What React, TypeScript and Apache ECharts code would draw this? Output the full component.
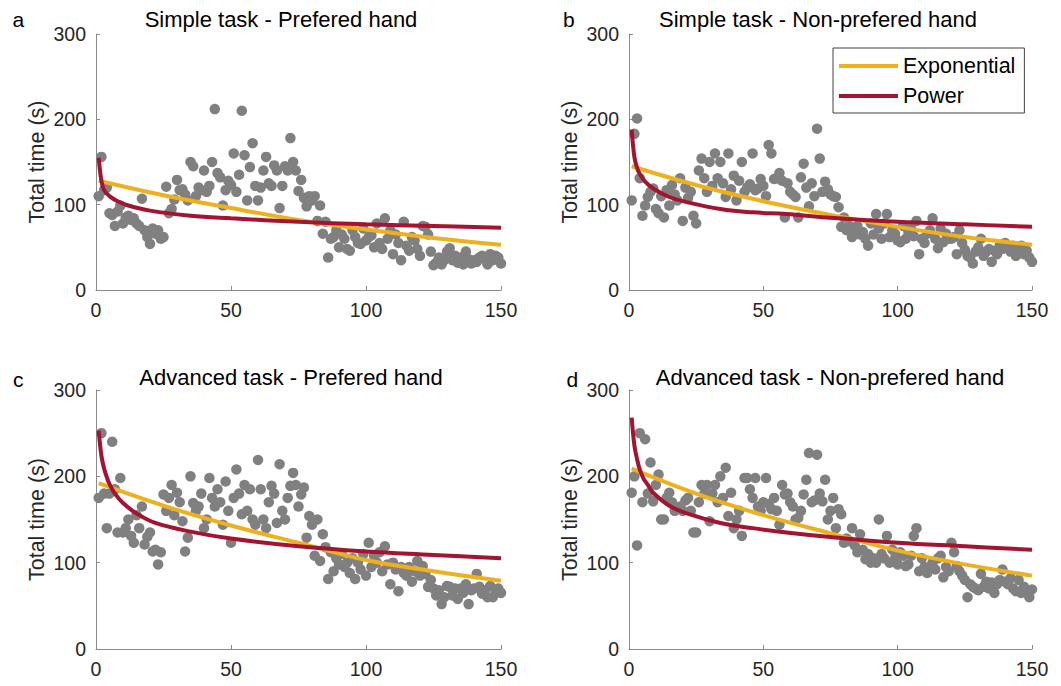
import React, { useEffect, useRef } from "react";
import * as echarts from "echarts";

const FONT = "'Liberation Sans', Arial, Helvetica, sans-serif";

const panelTitles = [
  "Simple task - Prefered hand",
  "Simple task - Non-prefered hand",
  "Advanced task - Prefered hand",
  "Advanced task - Non-prefered hand",
];
const panelLetters = ["a", "b", "c", "d"];
const seriesNames = ["Exponential", "Power"];
const xTicks = [0, 50, 100, 150];
const yTicks = [0, 100, 200, 300];

// Total time (s) per trial (trial = index + 1)
const timesA = [
  110, 156, 117, 120, 90, 88, 75, 92, 99, 78,
  85, 87, 82, 84, 78, 75, 107, 70, 62, 54,
  72, 66, 70, 60, 62, 121, 90, 95, 106, 129,
  117, 118, 112, 105, 150, 145, 110, 120, 117, 140,
  115, 122, 150, 212, 137, 132, 99, 117, 128, 123,
  160, 115, 135, 210, 158, 105, 144, 172, 122, 105,
  120, 140, 156, 125, 122, 146, 140, 96, 122, 145,
  140, 178, 150, 140, 116, 129, 108, 98, 110, 105,
  110, 81, 99, 66, 80, 38, 60, 62, 70, 50,
  65, 60, 48, 46, 70, 62, 55, 54, 72, 58,
  62, 64, 50, 78, 55, 48, 84, 60, 70, 42,
  65, 55, 35, 80, 52, 46, 62, 58, 48, 40,
  75, 74, 65, 45, 29, 32, 38, 30, 35, 45,
  49, 35, 40, 32, 38, 30, 45, 36, 31, 35,
  33, 38, 40, 36, 30, 42, 35, 40, 38, 31,
];
const timesB = [
  105, 183, 201, 131, 87, 99, 109, 115, 119, 95,
  90, 110, 85, 117, 99, 123, 112, 105, 131, 81,
  120, 108, 115, 87, 78, 140, 154, 131, 115, 150,
  122, 160, 131, 150, 125, 109, 160, 118, 134, 105,
  128, 150, 115, 120, 124, 160, 117, 119, 130, 122,
  110, 170, 160, 130, 131, 137, 128, 85, 125, 115,
  112, 109, 85, 132, 148, 120, 98, 125, 110, 189,
  154, 115, 127, 118, 112, 110, 109, 97, 74, 85,
  70, 75, 62, 70, 75, 65, 68, 60, 52, 78,
  65, 89, 72, 60, 78, 89, 62, 70, 66, 58,
  56, 75, 60, 68, 72, 63, 81, 42, 60, 55,
  66, 70, 84, 60, 49, 72, 56, 66, 60, 60,
  62, 42, 70, 55, 47, 40, 38, 31, 45, 50,
  60, 40, 45, 48, 33, 46, 42, 52, 48, 55,
  50, 45, 52, 40, 46, 52, 42, 46, 38, 33,
];
const timesC = [
  175, 250, 180, 140, 180, 240, 185, 135, 198, 135,
  140, 150, 131, 123, 155, 140, 165, 121, 130, 135,
  113, 115, 98, 112, 179, 160, 175, 190, 155, 181,
  170, 148, 113, 129, 200, 169, 160, 165, 180, 140,
  150, 198, 175, 165, 185, 170, 144, 194, 160, 123,
  175, 208, 180, 156, 190, 160, 185, 150, 144, 219,
  185, 150, 140, 170, 189, 180, 146, 214, 160, 150,
  175, 189, 204, 190, 165, 179, 187, 129, 154, 144,
  108, 150, 102, 133, 118, 81, 112, 90, 105, 98,
  110, 95, 100, 88, 105, 81, 100, 92, 110, 85,
  123, 95, 108, 100, 112, 90, 119, 98, 75, 100,
  92, 67, 95, 88, 85, 95, 78, 90, 102, 85,
  96, 87, 72, 80, 70, 62, 68, 52, 60, 73,
  72, 62, 70, 58, 70, 65, 75, 52, 68, 70,
  87, 72, 64, 68, 60, 73, 60, 66, 70, 65,
];
const timesD = [
  181, 200, 120, 250, 170, 243, 180, 216, 171, 190,
  202, 150, 150, 175, 181, 170, 160, 162, 165, 160,
  172, 175, 160, 135, 135, 170, 190, 180, 190, 148,
  180, 190, 170, 200, 175, 210, 154, 181, 140, 150,
  160, 131, 198, 198, 185, 175, 198, 165, 160, 170,
  198, 168, 162, 175, 160, 144, 190, 179, 180, 170,
  165, 150, 152, 160, 179, 196, 227, 170, 172, 225,
  180, 171, 196, 150, 160, 175, 140, 162, 156, 123,
  128, 125, 140, 120, 112, 133, 115, 104, 110, 100,
  105, 100, 150, 110, 105, 131, 100, 115, 105, 98,
  112, 108, 96, 98, 108, 131, 140, 90, 105, 95,
  88, 95, 100, 92, 105, 108, 83, 95, 90, 123,
  112, 96, 90, 85, 80, 60, 75, 72, 70, 68,
  87, 72, 78, 70, 77, 65, 75, 80, 92, 78,
  75, 82, 70, 67, 80, 65, 72, 68, 60, 69,
];

// Fitted curves: [trial, time]
const expA = [[1, 128], [25, 111], [50, 96], [75, 82], [100, 71], [125, 61], [150, 53]];
const powA = [[1, 155], [2, 128], [3, 117], [5, 110], [8, 104], [12, 99], [20, 93], [35, 87], [50, 84], [75, 80], [100, 77], [125, 75], [150, 73]];
const expB = [[1, 145], [25, 123], [50, 104], [75, 88], [100, 74], [125, 62], [150, 53]];
const powB = [[1, 188], [2, 156], [3, 143], [4, 136], [6, 127], [9, 119], [15, 109], [21.5, 103], [34, 95], [46, 91], [58.6, 89], [73.5, 85], [100, 80], [125, 77], [150, 74]];
const expC = [[1, 192], [25, 166], [50, 143], [75, 123], [100, 103], [125, 90], [150, 79]];
const powC = [[1, 253], [2, 224], [3, 209], [4, 199], [5, 191], [7, 180], [10, 169], [15, 157], [22, 146], [35, 136], [50, 128], [75, 119], [100, 113], [125, 109], [150, 105]];
const expD = [[1, 209], [25, 180], [50, 155], [75, 134], [100, 114], [125, 98], [150, 85]];
const powD = [[1, 268], [2, 236], [3, 220], [4, 208], [5.3, 198], [7, 190], [9, 181], [15, 166], [21.5, 157], [34, 146], [46, 140], [58.6, 135], [74, 130], [100, 123], [125, 119], [150, 115]];

const scatterSets = [timesA, timesB, timesC, timesD];
const expSets = [expA, expB, expC, expD];
const powSets = [powA, powB, powC, powD];

const GRIDS = [
  { left: 96, top: 34, width: 405, height: 256 },
  { left: 629, top: 34, width: 403, height: 256 },
  { left: 96, top: 390, width: 405, height: 259 },
  { left: 629, top: 390, width: 403, height: 259 },
];
const TITLE_POS = [
  [281, 19.5],
  [818, 19.5],
  [291, 377.5],
  [830, 377.5],
];
const LETTER_POS = [
  [12.5, 19.5],
  [563, 19.5],
  [13, 379],
  [566.5, 379],
];

const AXIS_COLOR = "#8a8a8a";
const LABEL_COLOR = "#262626";
const EXP_COLOR = "#EDB120";
const POW_COLOR = "#A2142F";
const DOT_COLOR = "#808080";

export default function App() {
  const ref = useRef<HTMLDivElement>(null);

  useEffect(() => {
    if (!ref.current) return;
    const chart = echarts.init(ref.current, undefined, { renderer: "svg" });

    const xAxis = GRIDS.map((_, i) => ({
      type: "value",
      gridIndex: i,
      min: xTicks[0],
      max: xTicks[xTicks.length - 1],
      interval: 50,
      axisLine: { show: true, onZero: false, lineStyle: { color: AXIS_COLOR, width: 1 } },
      axisTick: { show: true, inside: true, length: 4, lineStyle: { color: AXIS_COLOR } },
      axisLabel: { color: LABEL_COLOR, fontSize: 19.5, fontFamily: FONT, margin: 10 },
      splitLine: { show: false },
    }));
    const yAxis = GRIDS.map((_, i) => ({
      type: "value",
      gridIndex: i,
      min: yTicks[0],
      max: yTicks[yTicks.length - 1],
      interval: 100,
      name: "Total time (s)",
      nameLocation: "middle",
      nameGap: 48,
      nameTextStyle: { color: LABEL_COLOR, fontSize: 21.5, fontFamily: FONT },
      axisLine: { show: true, onZero: false, lineStyle: { color: AXIS_COLOR, width: 1 } },
      axisTick: { show: true, inside: true, length: 4, lineStyle: { color: AXIS_COLOR } },
      axisLabel: { color: LABEL_COLOR, fontSize: 19.5, fontFamily: FONT, margin: 10 },
      splitLine: { show: false },
    }));

    const series: any[] = [];
    GRIDS.forEach((_, i) => {
      series.push({
        type: "scatter",
        name: "Data",
        xAxisIndex: i,
        yAxisIndex: i,
        data: scatterSets[i].map((v, k) => [k + 1, v]),
        symbolSize: 10.5,
        itemStyle: { color: DOT_COLOR, opacity: 1 },
        z: 2,
      });
      series.push({
        type: "line",
        name: seriesNames[0],
        xAxisIndex: i,
        yAxisIndex: i,
        data: expSets[i],
        smooth: 0.4,
        showSymbol: false,
        symbol: "none",
        lineStyle: { color: EXP_COLOR, width: 4 },
        itemStyle: { color: EXP_COLOR },
        z: 3,
      });
      series.push({
        type: "line",
        name: seriesNames[1],
        xAxisIndex: i,
        yAxisIndex: i,
        data: powSets[i],
        smooth: 0.4,
        showSymbol: false,
        symbol: "none",
        lineStyle: { color: POW_COLOR, width: 4 },
        itemStyle: { color: POW_COLOR },
        z: 4,
      });
    });

    const graphic: any[] = [];
    panelTitles.forEach((t, i) => {
      graphic.push({
        type: "text",
        x: TITLE_POS[i][0],
        y: TITLE_POS[i][1],
        style: {
          text: t,
          fontSize: 22,
          fontFamily: FONT,
          fill: "#000",
          align: "center",
          verticalAlign: "middle",
        },
      });
      graphic.push({
        type: "text",
        x: LETTER_POS[i][0],
        y: LETTER_POS[i][1],
        style: {
          text: panelLetters[i],
          fontSize: 21,
          fontFamily: FONT,
          fill: "#000",
          align: "left",
          verticalAlign: "middle",
        },
      });
    });

    chart.setOption({
      animation: false,
      backgroundColor: "#ffffff",
      grid: GRIDS.map((g) => ({ ...g, containLabel: false })),
      xAxis,
      yAxis,
      series,
      legend: {
        data: seriesNames,
        orient: "vertical",
        left: 833,
        top: 48,
        icon: "rect",
        itemWidth: 59,
        itemHeight: 4,
        itemGap: 6,
        padding: [6, 9, 5, 6],
        borderColor: "#404040",
        borderWidth: 1,
        backgroundColor: "#fff",
        textStyle: { fontSize: 21.5, lineHeight: 24, color: "#000", fontFamily: FONT },
        selectedMode: false,
      },
      graphic,
    });

    return () => {
      chart.dispose();
    };
  }, []);

  return (
    <div
      ref={ref}
      style={{ position: "fixed", left: 0, top: 0, width: 1061, height: 686, background: "#fff" }}
    />
  );
}
